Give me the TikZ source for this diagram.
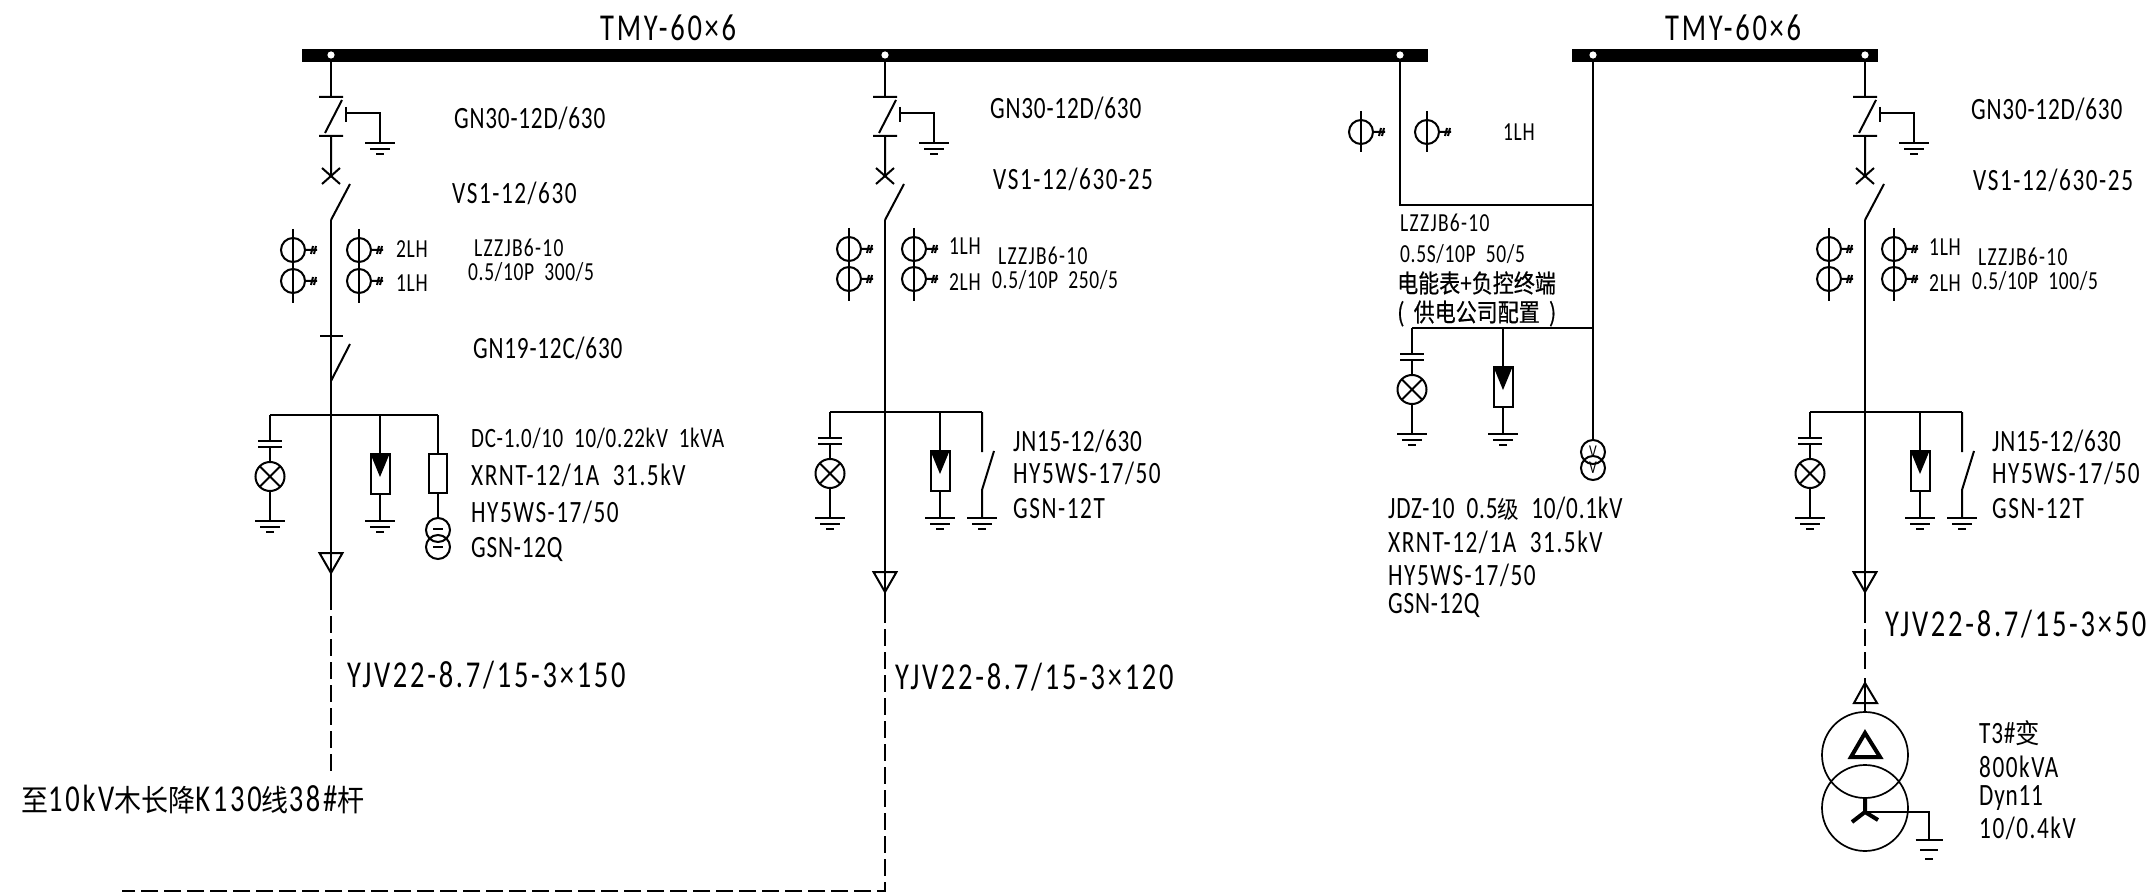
\documentclass[tikz,border=0pt]{standalone}
\usepackage{fontspec}
\setmainfont[FakeStretch=0.75,LetterSpace=2.5]{Carlito}
\newfontfamily\spaced[FakeStretch=0.75,LetterSpace=5]{Carlito}
\newfontfamily\wide[FakeStretch=0.75,LetterSpace=7.2]{Carlito}
\newfontfamily\cjk[FakeStretch=0.9]{Noto Sans CJK SC}
\newfontfamily\cjkb[FakeStretch=0.84,FakeBold=0.6]{Noto Sans CJK SC}
\usetikzlibrary{positioning}
\tikzset{
  wire/.style={draw,line width=2pt},
  cable/.style={draw,line width=2pt,dash pattern=on 17pt off 6pt},
  lblS/.style={inner sep=0pt,anchor=west,text height=17pt,text depth=0pt,font=\fontsize{26}{28}\selectfont},
  lblM/.style={inner sep=0pt,anchor=west,text height=20pt,text depth=0pt,font=\fontsize{31}{33}\selectfont},
  lblL/.style={inner sep=0pt,anchor=west,text height=25pt,text depth=0pt,font=\wide\fontsize{38}{40}\selectfont},
  tap/.pic={\fill[white] (0,0) circle[radius=3.6];},
  ground/.pic={
    \draw[wire] (-15,0) -- (15,0);
    \draw[wire] (-10,6) -- (10,6);
    \draw[wire] (-4,11) -- (4,11);
  },
  ct/.pic={
    \draw[wire] (0,0) circle[radius=12];
    \draw[wire] (12,0) -- (24,0) (18,4) -- (20,-4) (21,4) -- (23,-4);
  },
  lamp/.pic={
    \draw[wire] (0,0) -- (0,26) (-12,26) -- (12,26) (-12,32) -- (12,32) (0,32) -- (0,47);
    \draw[wire] (0,61.5) circle[radius=14.5];
    \draw[wire] (-10,-10+61.5) -- (10,10+61.5) (-10,10+61.5) -- (10,-10+61.5);
    \draw[wire] (0,76) -- (0,105.5);
    \pic at (0,105.5) {ground};
  },
  arrester/.pic={
    \draw[wire] (0,0) -- (0,39);
    \draw[wire] (-9.5,39) rectangle (9.5,79);
    \fill (-9.5,39) -- (9.5,39) -- (0,62) -- cycle;
    \draw[wire] (0,79) -- (0,105.5);
    \pic at (0,105.5) {ground};
  },
  earthsw/.pic={
    \draw[wire] (0,0) -- (0,40) (12,39) -- (0,78) -- (0,105.5);
    \pic at (0,105.5) {ground};
  },
  panel/.pic={
    \coordinate (-top) at (0,0);
    \coordinate (-bot) at (0,123);
    \draw[wire] (-12,0) -- (12,0) (11,3) -- (-6,36) (-12,39) -- (12,39) (0,39) -- (0,79);
    \draw[wire] (-9,71) -- (9,87) (-9,87) -- (9,71);
    \draw[wire] (19,87) -- (0,123);
    \draw[wire] (15,10) -- (15,25) (15,16) -- (49,16) -- (49,46);
    \pic at (49,46) {ground};
  },
  sealdown/.pic={
    \draw[wire] (-11.5,0) -- (11.5,0) -- (0,20) -- cycle;
  },
}
\begin{document}
\begin{tikzpicture}[x=1pt,y=-1pt]
  \useasboundingbox (0,0) rectangle (2156,893);
  % bus bars
  \fill (302,49) rectangle (1428,62);
  \fill (1572,49) rectangle (1878,62);
  \coordinate (A0) at (331,55);
  \coordinate (B0) at (885,55);
  \coordinate (C0) at (1400,55);
  \coordinate (D0) at (1593,55);
  \coordinate (E0) at (1865,55);
  \node[lblL](busL) at (600,28) {TMY-60×6};
  \node[lblL](busR) at (1665,28) {TMY-60×6};

  % feeder 1
  \pic (A1) at (331,97) {panel};
  \coordinate (A2) at (331,415);
  \coordinate (A3) at (270,415);
  \coordinate (A4) at (380,415);
  \coordinate (A5) at (438,415);
  \coordinate (A6) at (331,553);
  \coordinate (A7) at (331,593);
  \coordinate (A8) at (331,774);
  \draw[wire] (A0) -- (A1-top);
  \draw[wire] (A1-bot) -- (A6) (A3) -- (A5);
  \draw[wire] (320,336) -- (343,336);
  \draw[wire] (350,344) -- (331,381);
  \pic at (A3) {lamp};
  \pic at (A4) {arrester};
  \draw[wire] (A5) -- (438,454) (429,454) rectangle (447,493) (438,493) -- (438,518);
  \draw[wire] (438,530) circle[radius=12] (438,547) circle[radius=12];
  \draw[wire] (433,529) -- (443,529) (433,547) -- (443,547);
  \pic at (A6) {sealdown};
  \draw[wire] (A6) -- (A7);
  \draw[cable] (A7) -- (A8);
  \foreach \cx in {293,359}{
    \pic at (\cx,250) {ct};
    \pic at (\cx,281) {ct};
    \draw[wire] (\cx,229) -- (\cx,303);
  }
  \node[lblS](a2lh) at (396,249) {2LH};
  \node[lblS](a1lh) at (396,283) {1LH};
  \node[lblM](agn) at (454,119) {GN30-12D/630};
  \node[lblM](avs) at (452,194) {\spaced VS1-12/630};
  \node[lblS](alz) at (474,248) {\spaced LZZJB6-10};
  \node[lblS](act) at (468,272) {0.5/10P\ \ 300/5};
  \node[lblM](agc) at (473,349) {GN19-12C/630};
  \node[lblS,font=\fontsize{28}{30}\selectfont](adc) at (471,439) {DC-1.0/10\ \ 10/0.22kV\ \ 1kVA};
  \node[lblM](axr) at (471,475) {\spaced XRNT-12/1A\ \ 31.5kV};
  \node[lblM](ahy) at (471,512) {\spaced HY5WS-17/50};
  \node[lblM](ags) at (471,547) {GSN-12Q};
  \node[lblL](ayj) at (347,675) {YJV22-8.7/15-3×150};
  \node[lblL](ato) at (21,799) {{\cjk\fontsize{30}{32}\selectfont 至}10kV{\cjk\fontsize{30}{32}\selectfont 木长降}K130{\cjk\fontsize{30}{32}\selectfont 线}38\#{\cjk\fontsize{30}{32}\selectfont 杆}};

  % feeder 2
  \pic (B1) at (885,97) {panel};
  \coordinate (B2) at (885,412);
  \coordinate (B3) at (830,412);
  \coordinate (B4) at (940,412);
  \coordinate (B5) at (982,412);
  \coordinate (B6) at (885,572);
  \coordinate (B7) at (885,606);
  \coordinate (B8) at (885,891);
  \coordinate (B9) at (122,891);
  \draw[wire] (B0) -- (B1-top);
  \draw[wire] (B1-bot) -- (B6) (B3) -- (B5);
  \pic at (B3) {lamp};
  \pic at (B4) {arrester};
  \pic at (B5) {earthsw};
  \pic at (B6) {sealdown};
  \draw[wire] (B6) -- (B7);
  \draw[cable] (B7) -- (B8) -- (B9);
  \foreach \cx in {849,914}{
    \pic at (\cx,249) {ct};
    \pic at (\cx,279) {ct};
    \draw[wire] (\cx,228) -- (\cx,301);
  }
  \node[lblS](b1lh) at (949,246) {1LH};
  \node[lblS](b2lh) at (949,282) {2LH};
  \node[lblM](bgn) at (990,109) {GN30-12D/630};
  \node[lblM](bvs) at (993,180) {\spaced VS1-12/630-25};
  \node[lblS](blz) at (998,256) {\spaced LZZJB6-10};
  \node[lblS](bct) at (992,280) {0.5/10P\ \ 250/5};
  \node[lblM](bjn) at (1013,441) {JN15-12/630};
  \node[lblM](bhy) at (1013,473) {\spaced HY5WS-17/50};
  \node[lblM](bgs) at (1013,508) {\spaced GSN-12T};
  \node[lblL](byj) at (895,677) {YJV22-8.7/15-3×120};

  % metering section
  \coordinate (C1) at (1400,205);
  \coordinate (D1) at (1593,205);
  \coordinate (D2) at (1593,328);
  \coordinate (C3) at (1412,328);
  \coordinate (C4) at (1503,328);
  \coordinate (D3) at (1593,440);
  \draw[wire] (C0) -- (C1) -- (D1);
  \draw[wire] (D0) -- (D3) (D2) -- (C3);
  \pic at (C3) {lamp};
  \pic at (C4) {arrester};
  \foreach \cx in {1361,1427}{
    \pic at (\cx,132) {ct};
    \draw[wire] (\cx,111) -- (\cx,152);
  }
  \node[wire,circle,minimum size=24pt,inner sep=0pt,font=\fontsize{18}{18}\selectfont](v1) at (1593,452) {V};
  \node[wire,circle,minimum size=24pt,inner sep=0pt,font=\fontsize{18}{18}\selectfont](v2) at (1593,468) {V};
  \node[lblS](c1lh) at (1503,132) {1LH};
  \node[lblS](clz) at (1400,223) {\spaced LZZJB6-10};
  \node[lblS](cct) at (1400,254) {0.5S/10P\ \ 50/5};
  \node[lblS,font=\cjkb\fontsize{25}{27}\selectfont](cmt) at (1397,284) {电能表+负控终端};
  \node[lblS,font=\cjkb\fontsize{25}{27}\selectfont](cpw) at (1397,313) {(\ \ 供电公司配置\ \ )};
  \node[lblM](cjd) at (1388,508) {JDZ-10\ \ 0.5{\cjk\fontsize{24}{26}\selectfont 级}\ \ 10/0.1kV};
  \node[lblM](cxr) at (1388,542) {\spaced XRNT-12/1A\ \ 31.5kV};
  \node[lblM](chy) at (1388,575) {\spaced HY5WS-17/50};
  \node[lblM](cgs) at (1388,603) {GSN-12Q};

  % feeder 4 and transformer
  \pic (E1) at (1865,97) {panel};
  \coordinate (E2) at (1865,412);
  \coordinate (E3) at (1810,412);
  \coordinate (E4) at (1920,412);
  \coordinate (E5) at (1962,412);
  \coordinate (E6) at (1865,572);
  \coordinate (E7) at (1865,606);
  \coordinate (E8) at (1865,672);
  \coordinate (E9) at (1865,678);
  \coordinate (E10) at (1865,712);
  \coordinate (E11) at (1865,812);
  \coordinate (E12) at (1929,812);
  \coordinate (E13) at (1929,840);
  \draw[wire] (E0) -- (E1-top);
  \draw[wire] (E1-bot) -- (E6) (E3) -- (E5);
  \pic at (E3) {lamp};
  \pic at (E4) {arrester};
  \pic at (E5) {earthsw};
  \pic at (E6) {sealdown};
  \draw[wire] (E6) -- (E7);
  \draw[cable] (E7) -- (E8);
  \draw[wire] (E9) -- (E10);
  \draw[wire] (1854,703) -- (1877,703) -- (1865,683) -- cycle;
  \draw[line width=1.7pt] (1865,755) circle[radius=43] (1865,808) circle[radius=43];
  \draw[line width=4pt] (1851,757) -- (1880,757) -- (1865,733) -- cycle;
  \draw[line width=4pt] (1865,798) -- (E11) -- (1852,822) (E11) -- (1878,820);
  \draw[wire] (E11) -- (E12) -- (E13);
  \pic[yscale=1.7,xscale=0.9] at (E13) {ground};
  \foreach \cx in {1829,1894}{
    \pic at (\cx,249) {ct};
    \pic at (\cx,279) {ct};
    \draw[wire] (\cx,228) -- (\cx,301);
  }
  \node[lblS](e1lh) at (1929,247) {1LH};
  \node[lblS](e2lh) at (1929,283) {2LH};
  \node[lblM](egn) at (1971,110) {GN30-12D/630};
  \node[lblM](evs) at (1973,181) {\spaced VS1-12/630-25};
  \node[lblS](elz) at (1978,257) {\spaced LZZJB6-10};
  \node[lblS](ect) at (1972,281) {0.5/10P\ \ 100/5};
  \node[lblM](ejn) at (1992,441) {JN15-12/630};
  \node[lblM](ehy) at (1992,473) {\spaced HY5WS-17/50};
  \node[lblM](egs) at (1992,508) {\spaced GSN-12T};
  \node[lblL](eyj) at (1885,624) {YJV22-8.7/15-3×50};
  \node[lblM](et3) at (1979,733) {T3\#{\cjk\fontsize{27}{29}\selectfont 变}};
  \node[lblM](ekv) at (1979,767) {\spaced 800kVA};
  \node[lblM](edy) at (1979,795) {Dyn11};
  \node[lblM](evr) at (1979,828) {\spaced 10/0.4kV};

  % bus tap dots, drawn last
  \pic at (A0) {tap};
  \pic at (B0) {tap};
  \pic at (C0) {tap};
  \pic at (D0) {tap};
  \pic at (E0) {tap};
\end{tikzpicture}
\end{document}
